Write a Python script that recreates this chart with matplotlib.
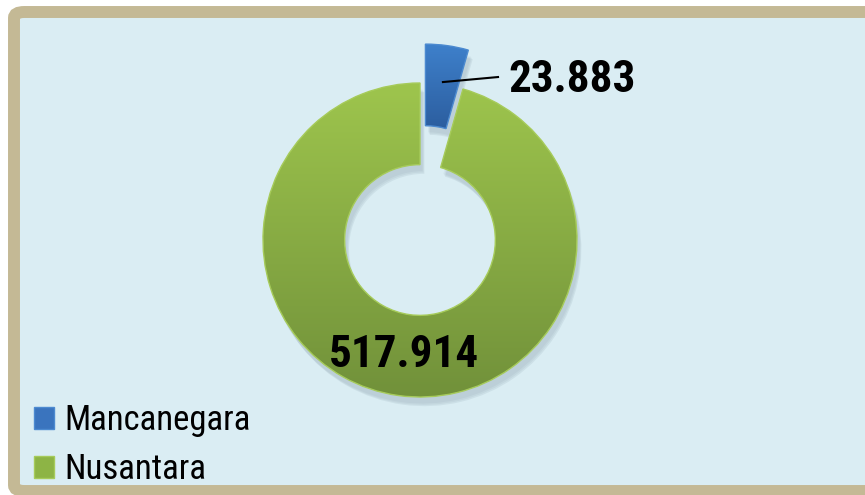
import numpy as np
import matplotlib
matplotlib.use("Agg")
import matplotlib.pyplot as plt
from matplotlib.patches import FancyBboxPatch, Patch, Shadow
from matplotlib.colors import LinearSegmentedColormap

# data
labels = ["Mancanegara", "Nusantara"]
values = [23.883, 517.914]
value_texts = ["23.883", "517.914"]

top_colors = ["#3E80CB", "#9EC54D"]
bottom_colors = ["#2C5E9F", "#71913A"]
flat_colors = ["#3A74BE", "#8DB445"]
edge_colors = ["#4C8AD0", "#A6CB5A"]

FONT = ["Roboto Condensed", "DejaVu Sans"]
plt.rcParams["font.family"] = FONT

W, H = 865, 495
fig = plt.figure(figsize=(W / 100, H / 100), dpi=100)
fig.patch.set_facecolor("white")

# light blue panel with tan frame
frame = FancyBboxPatch((14 / W, 4 / H), (900 - 14) / W, (H - 12 - 4) / H,
                       boxstyle="round,pad=0,rounding_size=0.012",
                       transform=fig.transFigure, facecolor="#DAEDF3",
                       edgecolor="#C4B995", linewidth=8.6, zorder=-5)
fig.patches.append(frame)

# donut: centre (420, 240) px, radius 157 px
cx, cy, R = 420, 240, 157
ax = fig.add_axes([(cx - R) / W, (H - cy - R) / H, 2 * R / W, 2 * R / H])
ax.set_axis_off()

wedges, _ = ax.pie(values, startangle=90, counterclock=False,
                   explode=[0.25, 0], radius=1, colors=flat_colors,
                   wedgeprops=dict(width=0.52, linewidth=0))

for i, w in enumerate(wedges):
    w.set_clip_on(False)
    # soft shadow
    for k, a in enumerate([0.06, 0.08, 0.10]):
        s = Shadow(w, 0.012 + 0.004 * k, -0.03 - 0.006 * k,
                   facecolor="#5A6E80", alpha=a, zorder=0.5)
        s.set_clip_on(False)
        ax.add_patch(s)
    cmap = LinearSegmentedColormap.from_list("g%d" % i, [bottom_colors[i], top_colors[i]])
    grad = np.linspace(0, 1, 256).reshape(-1, 1)
    ext = w.get_path().get_extents(w.get_patch_transform())
    img = ax.imshow(grad, cmap=cmap, origin="lower", aspect="auto",
                    extent=[ext.x0, ext.x1, ext.y0, ext.y1], zorder=2)
    img.set_clip_box(fig.bbox)
    img.set_clip_path(w)
    w.set_edgecolor(edge_colors[i])
    w.set_linewidth(1.0)
    w.set_facecolor("none")
    w.set_zorder(3)
ax.set_xlim(-1, 1)
ax.set_ylim(-1, 1)
ax.set_aspect("equal")

# value labels
ax.plot([0.146, 0.497], [1.006, 1.038], color="black", lw=1.5,
        clip_on=False, zorder=5)
ax.text(0.565, 1.02, value_texts[0], fontsize=32.5, fontweight="bold",
        ha="left", va="center", zorder=5, clip_on=False)
ax.text(-0.10, -0.73, value_texts[1], fontsize=32.5, fontweight="bold",
        ha="center", va="center", zorder=5, clip_on=False)

# legend
handles = [Patch(facecolor=flat_colors[k], edgecolor=edge_colors[k]) for k in range(2)]
fig.legend(handles, labels, loc="lower left", bbox_to_anchor=(34 / W, 9 / H),
           fontsize=25, frameon=False, handlelength=0.58, handleheight=0.58,
           handletextpad=0.3, labelspacing=0.45, borderpad=0, borderaxespad=0)

fig.savefig("out.png", dpi=100, facecolor=fig.get_facecolor())
